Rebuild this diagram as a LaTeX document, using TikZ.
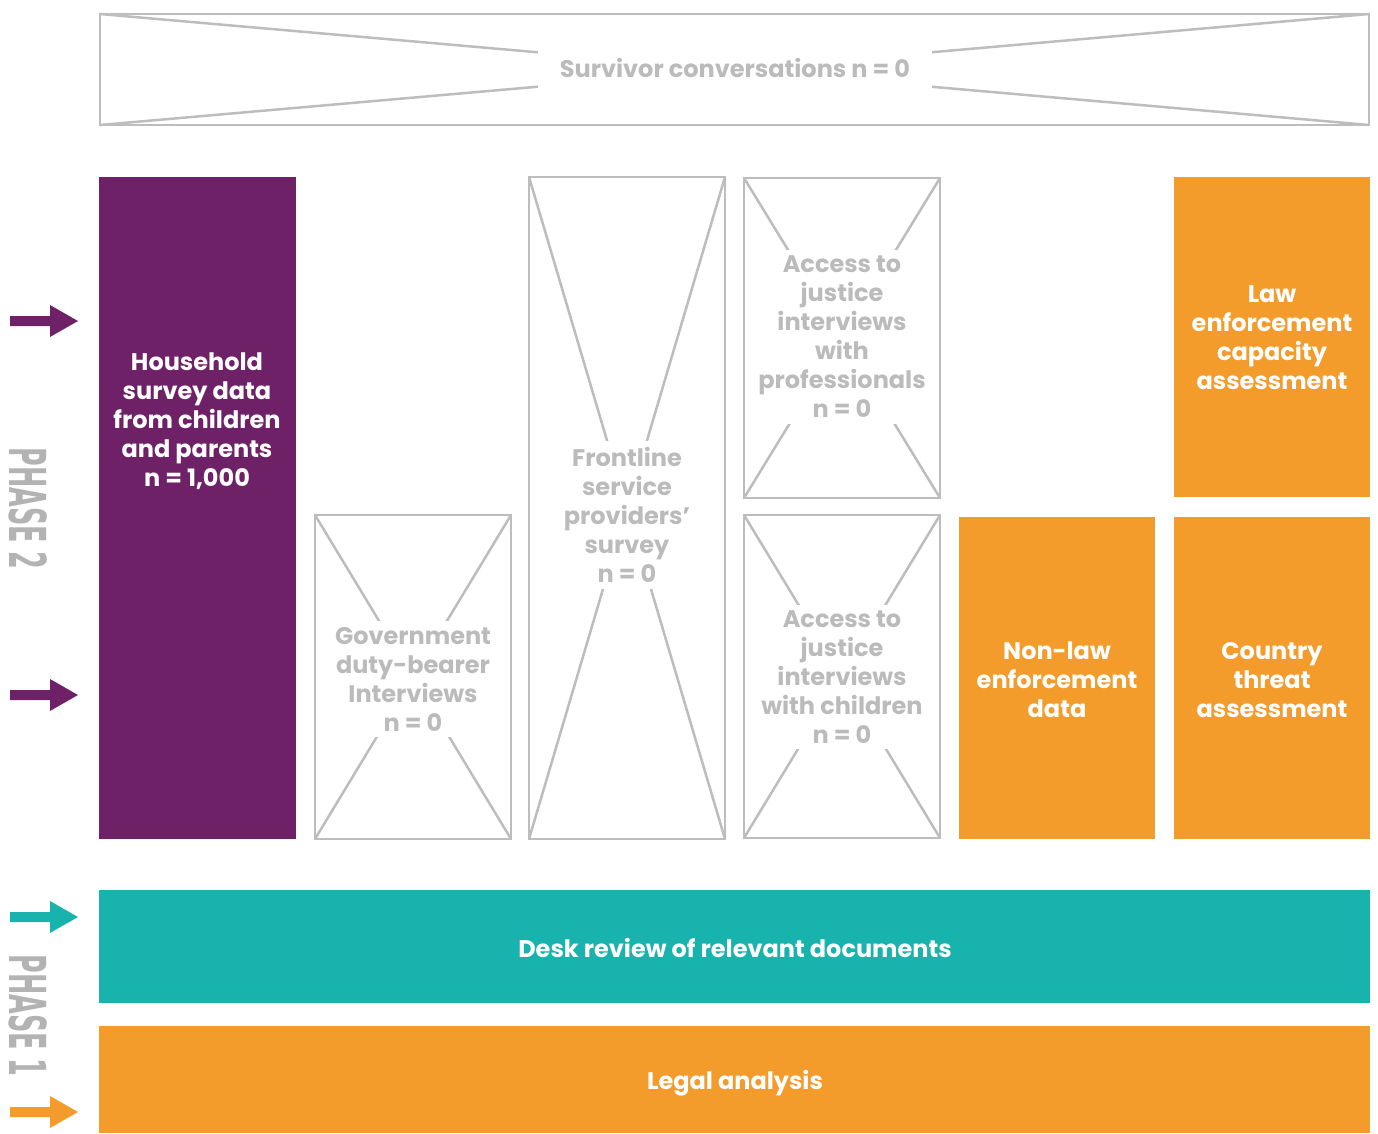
\documentclass[tikz,border=0pt]{standalone}
\usepackage{fontspec}
\setmainfont{Poppins}
\newfontfamily\phasefont{DejaVu Sans}
\definecolor{cpurple}{HTML}{6F2168}
\definecolor{corange}{HTML}{F39C2B}
\definecolor{cteal}{HTML}{17B3AC}
\definecolor{cline}{HTML}{BDBDBD}
\definecolor{ctext}{HTML}{BBBBBB}
\definecolor{cphase}{HTML}{B3B3B3}
\tikzset{
  boxfont/.style={font=\fontsize{24}{29}\selectfont\bfseries},
  solidbox/.style={boxfont, draw=none, text=white, align=center, inner sep=0, outer sep=0},
  crossbox/.style={draw=cline, line width=2.5pt, inner sep=0, outer sep=0},
  crossline/.style={draw=cline, line width=2.5pt},
  crosstext/.style={boxfont, text=ctext, align=center, fill=white, inner xsep=3pt, inner ysep=6pt},
  phaselabel/.style={text=cphase, font=\phasefont\bfseries\fontsize{51}{51}\selectfont, rotate=-90, inner sep=0},
}
\begin{document}
\begin{tikzpicture}[x=1pt,y=-1pt]
\useasboundingbox (0,0) rectangle (1378,1133);
\fill[white] (0,0) rectangle (1378,1133);

% survivor box
\node[crossbox, minimum width=1269pt, minimum height=111pt] (surv) at (734.5,69.5) {};
\draw[crossline] (surv.north west) -- (surv.south east);
\draw[crossline] (surv.south west) -- (surv.north east);
\node[crosstext, inner xsep=22pt, minimum height=52pt] (survt) at (735,68) {Survivor conversations n = 0};

% household
\node[solidbox, fill=cpurple, minimum width=197pt, minimum height=662pt] (hh) at (197.5,508) {};
\node[solidbox] (hht) at (197,421) {Household\\survey data\\from children\\and parents\\n = 1,000};

% government
\node[crossbox, minimum width=196pt, minimum height=324pt] (gov) at (413,677) {};
\draw[crossline] (gov.north west) -- (gov.south east);
\draw[crossline] (gov.south west) -- (gov.north east);
\node[crosstext] (govt) at (413,679) {Government\\duty-bearer\\Interviews\\n = 0};

% frontline
\node[crossbox, minimum width=196pt, minimum height=662pt] (front) at (627,508) {};
\draw[crossline] (front.north west) -- (front.south east);
\draw[crossline] (front.south west) -- (front.north east);
\node[crosstext] (frontt) at (627,515) {Frontline\\service\\providers'\\survey\\n = 0};

% access 1
\node[crossbox, minimum width=196pt, minimum height=320pt] (acc1) at (842,338) {};
\draw[crossline] (acc1.north west) -- (acc1.south east);
\draw[crossline] (acc1.south west) -- (acc1.north east);
\node[crosstext] (acc1t) at (842,337) {Access to\\justice\\interviews\\with\\professionals\\n = 0};

% access 2
\node[crossbox, minimum width=196pt, minimum height=323pt] (acc2) at (842,676.5) {};
\draw[crossline] (acc2.north west) -- (acc2.south east);
\draw[crossline] (acc2.south west) -- (acc2.north east);
\node[crosstext] (acc2t) at (842,677) {Access to\\justice\\interviews\\with children\\n = 0};

% law enforcement
\node[solidbox, fill=corange, minimum width=196pt, minimum height=320pt] (law) at (1272,337) {};
\node[solidbox] (lawt) at (1272,338) {Law\\enforcement\\capacity\\assessment};

% non-law
\node[solidbox, fill=corange, minimum width=196pt, minimum height=322pt] (nonlaw) at (1057,678) {};
\node[solidbox] (nonlawt) at (1057,680) {Non-law\\enforcement\\data};

% country
\node[solidbox, fill=corange, minimum width=196pt, minimum height=322pt] (country) at (1272,678) {};
\node[solidbox] (countryt) at (1272,680) {Country\\threat\\assessment};

% desk review
\node[solidbox, fill=cteal, minimum width=1271pt, minimum height=113pt] (desk) at (734.5,946.5) {};
\node[solidbox] (deskt) at (735,948) {Desk review of relevant documents};

% legal
\node[solidbox, fill=corange, minimum width=1271pt, minimum height=107pt] (legal) at (734.5,1079.5) {};
\node[solidbox] (legalt) at (735,1083) {Legal analysis};

% arrows
\foreach \yy/\cc in {321/cpurple, 695/cpurple, 917/cteal, 1112/corange}{
  \fill[\cc] (10,\yy-5) -- (50,\yy-5) -- (50,\yy-16) -- (78,\yy) -- (50,\yy+16) -- (50,\yy+5) -- (10,\yy+5) -- cycle;
}

% phase labels
\node[phaselabel] (ph2) at (28.5,508.5) {\scalebox{0.5}[1]{PHASE 2}};
\node[phaselabel] (ph1) at (28.5,1015.5) {\scalebox{0.5}[1]{PHASE 1}};
\end{tikzpicture}
\end{document}
